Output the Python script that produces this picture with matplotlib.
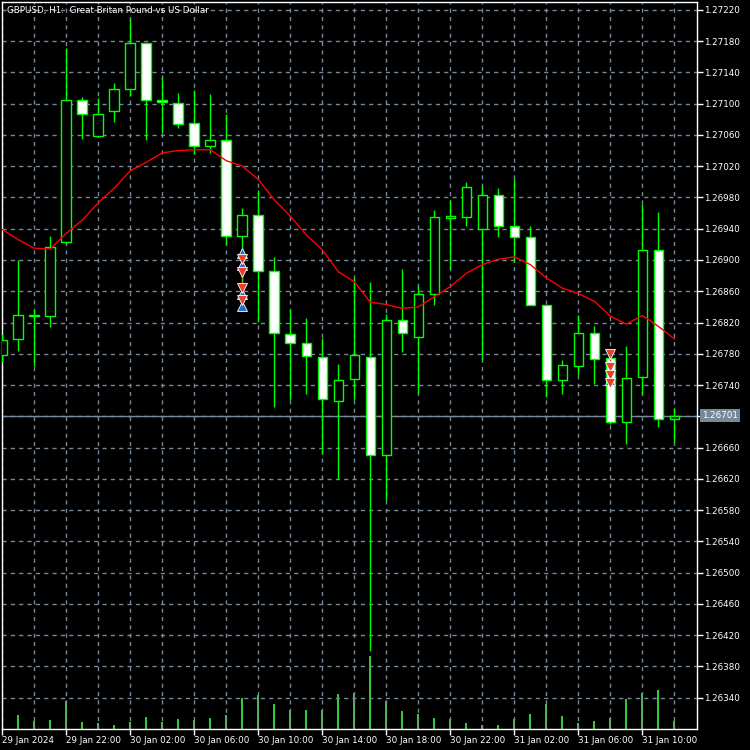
import numpy as np
import matplotlib
matplotlib.use("Agg")
import matplotlib.pyplot as plt
from matplotlib.ticker import MultipleLocator, FixedLocator

# GBPUSD H1 bars, 29 Jan 18:00 .. 31 Jan 12:00
opens = [1.26779, 1.26799, 1.26830, 1.26828, 1.26923, 1.27104, 1.27058, 1.27090, 1.27119, 1.27177,
         1.27104, 1.27101, 1.27075, 1.27046, 1.27053, 1.26931, 1.26957, 1.26886, 1.26805, 1.26794,
         1.26776, 1.26720, 1.26748, 1.26776, 1.26650, 1.26823, 1.26802, 1.26856, 1.26954, 1.26955,
         1.26939, 1.26983, 1.26943, 1.26929, 1.26842, 1.26746, 1.26764, 1.26806, 1.26774, 1.26693,
         1.26750, 1.26913, 1.26697]
highs = [1.26805, 1.26900, 1.26837, 1.26931, 1.27171, 1.27108, 1.27107, 1.27126, 1.27208, 1.27178,
         1.27134, 1.27113, 1.27118, 1.27112, 1.27087, 1.26966, 1.26989, 1.26904, 1.26837, 1.26826,
         1.26800, 1.26767, 1.26877, 1.26872, 1.26831, 1.26889, 1.26867, 1.26964, 1.26977, 1.27000,
         1.26995, 1.26992, 1.27003, 1.26944, 1.26842, 1.26772, 1.26829, 1.26816, 1.26783, 1.26790,
         1.26972, 1.26962, 1.26711]
lows = [1.26770, 1.26784, 1.26765, 1.26814, 1.26921, 1.27055, 1.27057, 1.27076, 1.27110, 1.27053,
        1.27063, 1.27069, 1.27035, 1.27037, 1.26920, 1.26835, 1.26821, 1.26712, 1.26721, 1.26728,
        1.26652, 1.26620, 1.26721, 1.26400, 1.26593, 1.26782, 1.26730, 1.26842, 1.26888, 1.26943,
        1.26772, 1.26930, 1.26897, 1.26842, 1.26725, 1.26729, 1.26753, 1.26741, 1.26690, 1.26664,
        1.26728, 1.26686, 1.26667]
closes = [1.26798, 1.26830, 1.26828, 1.26916, 1.27104, 1.27087, 1.27087, 1.27119, 1.27177, 1.27105,
          1.27102, 1.27074, 1.27046, 1.27053, 1.26931, 1.26957, 1.26886, 1.26806, 1.26794, 1.26777,
          1.26722, 1.26746, 1.26778, 1.26650, 1.26823, 1.26806, 1.26857, 1.26955, 1.26956, 1.26993,
          1.26983, 1.26943, 1.26929, 1.26842, 1.26746, 1.26765, 1.26806, 1.26773, 1.26693, 1.26749,
          1.26913, 1.26697, 1.26701]
ma = [1.26939, 1.26926, 1.26915, 1.26914, 1.26934, 1.26951, 1.26973, 1.26992, 1.27014, 1.27025,
      1.27037, 1.27040, 1.27041, 1.27041, 1.27027, 1.27020, 1.27003, 1.26977, 1.26956, 1.26932,
      1.26913, 1.26885, 1.26872, 1.26846, 1.26843, 1.26838, 1.26840, 1.26853, 1.26866, 1.26883,
      1.26894, 1.26901, 1.26904, 1.26894, 1.26877, 1.26864, 1.26857, 1.26847, 1.26828, 1.26818,
      1.26829, 1.26815, 1.26799]
volumes = [840, 840, 480, 540, 1680, 420, 360, 240, 420, 720,
           420, 600, 540, 660, 840, 1860, 2040, 1500, 1140, 1140,
           1140, 2100, 2160, 4380, 1680, 1080, 900, 660, 600, 360,
           240, 240, 600, 900, 1500, 780, 360, 480, 660, 1800,
           2160, 2340, 480]

bid = 1.26701
tick_idx = [0, 4, 8, 12, 16, 20, 24, 28, 32, 36, 40]
tick_labels = ["29 Jan 2024", "29 Jan 22:00", "30 Jan 02:00", "30 Jan 06:00", "30 Jan 10:00",
               "30 Jan 14:00", "30 Jan 18:00", "30 Jan 22:00", "31 Jan 02:00", "31 Jan 06:00",
               "31 Jan 10:00"]

# trade arrows (bar index, price, 'b' buy / 's' sell)
trade_bar = [15, 15, 15, 15, 15, 15, 15, 15, 38, 38, 38, 38, 38]
trade_price = [1.26909, 1.26901, 1.26894, 1.26885, 1.26864, 1.26857, 1.26849, 1.26841,
               1.26780, 1.26763, 1.26753, 1.26747, 1.26742]
trade_side = ['b', 's', 'b', 's', 's', 'b', 's', 'b', 's', 's', 's', 'b', 's']

title = "GBPUSD, H1:  Great Britan Pound vs US Dollar"

BG = "black"
GRID = "#778899"
LIME = "#00ff00"
FS = 6.3

fig = plt.figure(figsize=(7.5, 7.5), dpi=100, facecolor=BG)
ax = fig.add_axes([2 / 750, 21 / 750, 695 / 750, 727 / 750])
ax.set_facecolor(BG)

# volumes on their own scale at the bottom
axv = ax.twinx()
x = np.arange(len(opens))
axv.bar(x, volumes, width=0.13, color="#32cd32", zorder=2)
axv.set_ylim(0, max(volumes) * 10)
axv.axis("off")

ax.set_zorder(axv.get_zorder() + 1)
ax.patch.set_visible(False)
axv.patch.set_visible(True)
axv.patch.set_facecolor(BG)

o = np.array(opens)
c = np.array(closes)
ax.vlines(x, lows, highs, color=LIME, lw=1, zorder=3)
body_lo = np.minimum(o, c)
body_h = np.maximum(np.abs(c - o), 0.00002)
fills = np.where(c < o, "white", "black")
ax.bar(x, body_h, bottom=body_lo, width=0.6, color=fills, edgecolor=LIME, lw=1, zorder=4)

ax.plot(x, ma, color="red", lw=1, zorder=5)

# current bid line
ax.axhline(bid, color=GRID, lw=1, zorder=1)
ax.text(1.0075, bid, f"{bid:.5f}", transform=ax.get_yaxis_transform(), color="white",
        fontsize=FS, va="center", ha="left", clip_on=False,
        bbox=dict(boxstyle="square,pad=0.25", fc=GRID, ec="none"))

# trade arrows
for b in sorted(set(trade_bar)):
    ps = [p for bb, p in zip(trade_bar, trade_price) if bb == b]
    ax.plot([b, b], [min(ps), max(ps)], ls=(0, (2, 2)), color="#e8412a", lw=1, zorder=6)
for side in ['b', 's']:
    bx = [b for b, s in zip(trade_bar, trade_side) if s == side]
    bp = [p for p, s in zip(trade_price, trade_side) if s == side]
    ax.plot(bx, bp, ls="none", marker="^" if side == 'b' else "v", ms=6.5,
            mfc="#1c6fd0" if side == 'b' else "#e8412a", mec="white", mew=0.6, zorder=7)

ax.set_xlim(-0.0125, 43.41)
ax.set_ylim(1.26300, 1.27230)


def price_fmt(v, _):
    # the bid box hides the level label it sits on
    if abs(v - bid) < 0.0001:
        return ""
    return f"{v:.5f}"


ax.yaxis.tick_right()
ax.yaxis.set_major_locator(FixedLocator(np.arange(1.26340, 1.27221, 0.0004)))
ax.yaxis.set_major_formatter(plt.FuncFormatter(price_fmt))
ax.tick_params(axis="y", colors="white", labelsize=FS, length=4, width=1, pad=1)

ax.set_xticks(tick_idx)
ax.set_xticklabels(tick_labels)
ax.xaxis.set_minor_locator(MultipleLocator(2))
ax.tick_params(axis="x", which="major", colors="white", labelsize=FS, length=4, width=1, pad=1)
ax.tick_params(axis="x", which="minor", length=0)
for lab in ax.get_xticklabels():
    lab.set_ha("left")

ax.grid(True, axis="y", color=GRID, ls=(0, (3, 3)), lw=1)
ax.grid(True, axis="x", which="both", color=GRID, ls=(0, (3, 3)), lw=1)
ax.set_axisbelow(True)

for sp in ax.spines.values():
    sp.set_color("white")
    sp.set_linewidth(1)

ax.text(5 / 695, 1 - 8 / 727, title, transform=ax.transAxes, color="white",
        fontsize=FS, va="center", ha="left", zorder=8)

fig.savefig("out.png", dpi=100, facecolor=BG)
